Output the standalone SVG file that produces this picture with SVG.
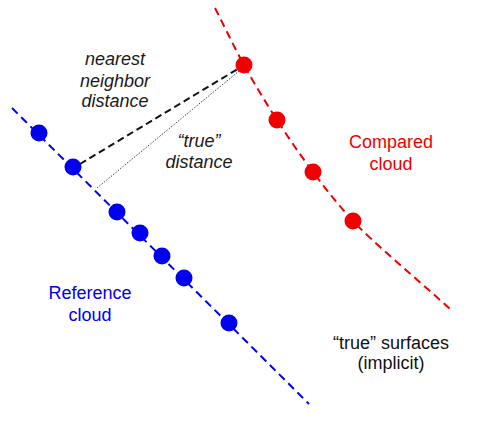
<svg xmlns="http://www.w3.org/2000/svg" width="500" height="440" viewBox="0 0 500 440">
<style>
.t{font-family:"Liberation Sans",Arial,sans-serif;font-size:18px;text-anchor:middle}
.i{font-style:italic;fill:#1a1a1a}
.blue{fill:#0000f0}
.red{fill:#f00000}
.bl{fill:none;stroke:#0000ee;stroke-width:2;stroke-dasharray:8 5}
.rl{fill:none;stroke:#ee0000;stroke-width:2;stroke-dasharray:8 5}
</style>
<rect width="500" height="440" fill="#fff"/>
<g id="connectors">
<path id="reference-surface" class="bl" d="M12,108 L309,404"/>
<path id="compared-surface" class="rl" d="M215,8 C224.7,27 233.7,46.3 244,65 C254.3,83.7 265.5,102.2 277,120 C288.5,137.8 300.3,155.2 313,172 C325.7,188.8 336.3,202.7 353,221 C369.7,239.3 417.7,279.7 450,309"/>
<path id="nn-distance" d="M80,164 L241,67" fill="none" stroke="#111" stroke-width="2" stroke-dasharray="7 4"/>
<path id="true-distance" d="M97,188 L239,71" fill="none" stroke="#444" stroke-width="1" stroke-dasharray="1.5 1.5"/>
</g>
<g id="reference-cloud">
<circle class="blue" cx="39" cy="133" r="8.5"/>
<circle class="blue" cx="73" cy="167" r="8.5"/>
<circle class="blue" cx="117" cy="212" r="8.5"/>
<circle class="blue" cx="140" cy="233" r="8.5"/>
<circle class="blue" cx="162" cy="256" r="8.5"/>
<circle class="blue" cx="184" cy="278" r="8.5"/>
<circle class="blue" cx="229" cy="323" r="8.5"/>
</g>
<g id="compared-cloud">
<circle class="red" cx="244" cy="65" r="8.5"/>
<circle class="red" cx="277" cy="120" r="8.5"/>
<circle class="red" cx="313" cy="172" r="8.5"/>
<circle class="red" cx="353" cy="221" r="8.5"/>
</g>
<g id="label-nn">
<text class="t i" x="115" y="65">nearest</text>
<text class="t i" x="115" y="87">neighbor</text>
<text class="t i" x="115" y="107">distance</text>
</g>
<g id="label-true-distance">
<text class="t i" x="199" y="147">“true”</text>
<text class="t i" x="199" y="168">distance</text>
</g>
<g id="label-compared">
<text class="t red" x="391" y="148">Compared</text>
<text class="t red" x="391" y="170">cloud</text>
</g>
<g id="label-reference">
<text class="t blue" x="90" y="299">Reference</text>
<text class="t blue" x="90" y="321">cloud</text>
</g>
<g id="label-surfaces">
<text class="t" x="391" y="349" fill="#111">“true” surfaces</text>
<text class="t" x="391" y="369" fill="#111">(implicit)</text>
</g>
</svg>
